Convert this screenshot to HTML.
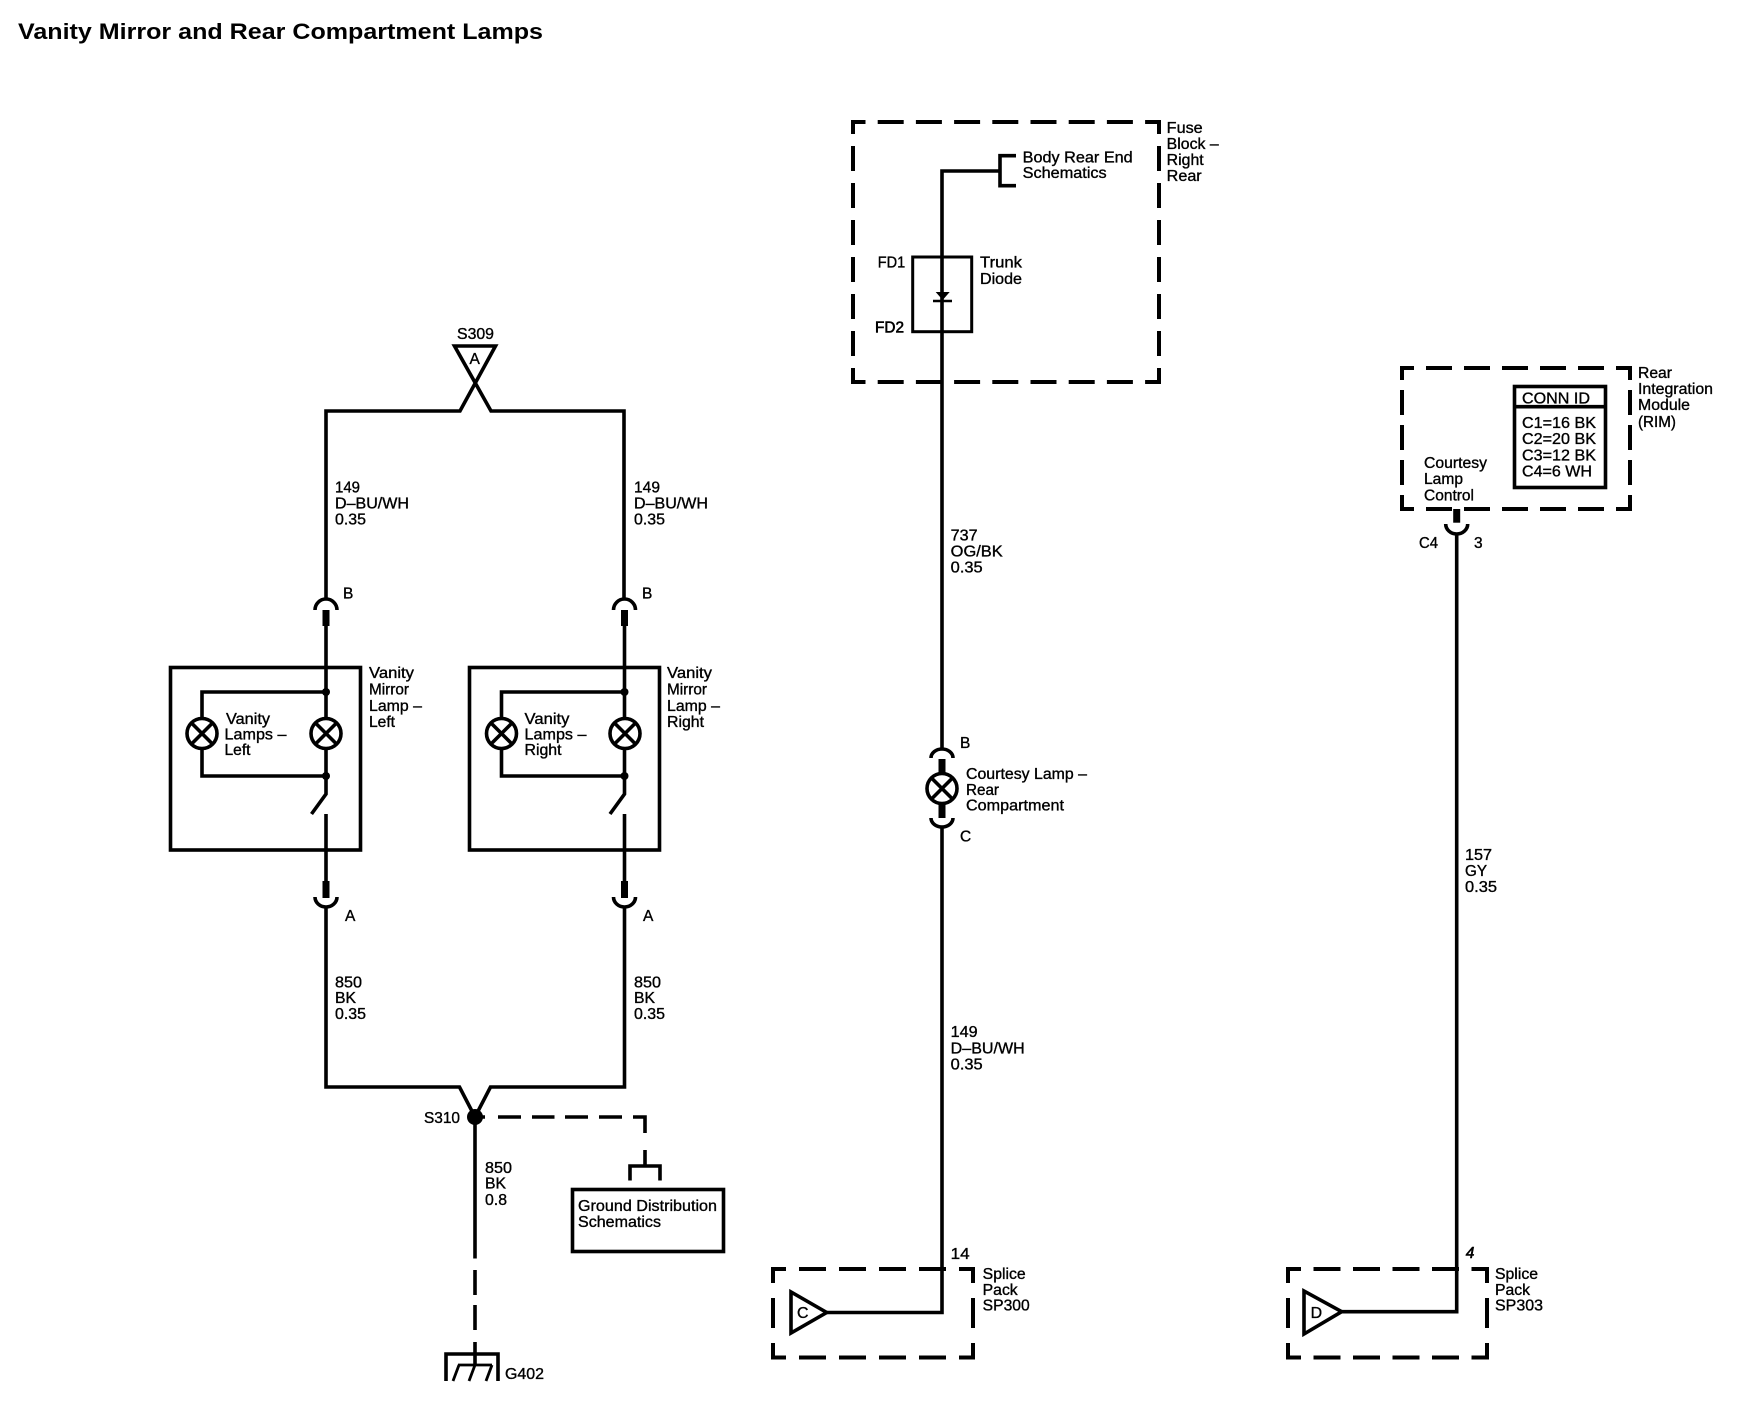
<!DOCTYPE html>
<html><head><meta charset="utf-8"><style>
html,body{margin:0;padding:0;background:#fff}
svg{display:block}
text{font-family:"Liberation Sans",Arial,sans-serif;font-size:15.5px;fill:#000;stroke:#000;stroke-width:.35}
.w{fill:none;stroke:#000;stroke-width:3.6}
.t{fill:none;stroke:#000;stroke-width:7}
.b{fill:none;stroke:#000;stroke-width:3.6}
</style></head><body>
<svg width="1740" height="1408" viewBox="0 0 1740 1408" xmlns="http://www.w3.org/2000/svg">
<rect width="1740" height="1408" fill="#fff"/>
<text x="18" y="39" textLength="525" lengthAdjust="spacingAndGlyphs" style="font-size:22px;font-weight:bold;stroke:none">Vanity Mirror and Rear Compartment Lamps</text>

<!-- S309 and top bus -->
<text x="457" y="339" textLength="37" lengthAdjust="spacingAndGlyphs">S309</text>
<path class="w" d="M326,598 V411 H460 L495.5,346 H454.5 L491,411 H624 V598" stroke-linejoin="miter"/>
<text x="469.5" y="364">A</text>

<!-- Left branch -->
<text x="335" y="492.5" textLength="25" lengthAdjust="spacingAndGlyphs">149</text>
<text x="335" y="508.5" textLength="74" lengthAdjust="spacingAndGlyphs">D–BU/WH</text>
<text x="335" y="524.5" textLength="31" lengthAdjust="spacingAndGlyphs">0.35</text>
<text x="343" y="598.5">B</text>
<path class="w" d="M315,610 A11,11 0 0 1 337,610"/>
<path class="t" d="M326,610 V626"/>
<path class="w" d="M326,626 V718 M326,749 V794 L311.5,814 M326,814 V881"/>
<rect class="b" x="170.5" y="667.5" width="190" height="182.5"/>
<path class="w" d="M326,692 H202 V718 M202,749 V776 H326"/>
<circle cx="326" cy="692" r="4"/><circle cx="326" cy="776" r="4"/>
<g class="w"><circle cx="326" cy="733.5" r="15"/><path d="M315.5,723 L336.5,744 M336.5,723 L315.5,744"/>
<circle cx="202" cy="733.5" r="15"/><path d="M191.5,723 L212.5,744 M212.5,723 L191.5,744"/></g>
<text x="226" y="724" textLength="44" lengthAdjust="spacingAndGlyphs">Vanity</text>
<text x="224.5" y="739.5" textLength="62" lengthAdjust="spacingAndGlyphs">Lamps –</text>
<text x="224.5" y="755" textLength="26" lengthAdjust="spacingAndGlyphs">Left</text>
<text x="369" y="678" textLength="45" lengthAdjust="spacingAndGlyphs">Vanity</text>
<text x="369" y="694.5" textLength="40" lengthAdjust="spacingAndGlyphs">Mirror</text>
<text x="369" y="711" textLength="53" lengthAdjust="spacingAndGlyphs">Lamp –</text>
<text x="369" y="727" textLength="26" lengthAdjust="spacingAndGlyphs">Left</text>
<path class="t" d="M326,881 V898"/>
<path class="w" d="M315,897 A11,10 0 0 0 337,897"/>
<text x="345" y="921">A</text>
<text x="335" y="987.5" textLength="27" lengthAdjust="spacingAndGlyphs">850</text>
<text x="335" y="1003" textLength="21" lengthAdjust="spacingAndGlyphs">BK</text>
<text x="335" y="1019" textLength="31" lengthAdjust="spacingAndGlyphs">0.35</text>

<!-- Right branch -->
<text x="634" y="492.5" textLength="26" lengthAdjust="spacingAndGlyphs">149</text>
<text x="634" y="508.5" textLength="74" lengthAdjust="spacingAndGlyphs">D–BU/WH</text>
<text x="634" y="524.5" textLength="31" lengthAdjust="spacingAndGlyphs">0.35</text>
<text x="642" y="598.5">B</text>
<path class="w" d="M613.5,610 A11,11 0 0 1 635.5,610"/>
<path class="t" d="M624.5,610 V626"/>
<path class="w" d="M624.5,626 V718 M624.5,749 V794 L610,814 M624.5,814 V881"/>
<rect class="b" x="469.5" y="667.5" width="190" height="182.5"/>
<path class="w" d="M624.5,692 H501.5 V718 M501.5,749 V776 H624.5"/>
<circle cx="624.5" cy="692" r="4"/><circle cx="624.5" cy="776" r="4"/>
<g class="w"><circle cx="625" cy="733.5" r="15"/><path d="M614.5,723 L635.5,744 M635.5,723 L614.5,744"/>
<circle cx="501.5" cy="733.5" r="15"/><path d="M491,723 L512,744 M512,723 L491,744"/></g>
<text x="524.5" y="724" textLength="45" lengthAdjust="spacingAndGlyphs">Vanity</text>
<text x="524.5" y="739.5" textLength="62" lengthAdjust="spacingAndGlyphs">Lamps –</text>
<text x="524.5" y="755" textLength="37" lengthAdjust="spacingAndGlyphs">Right</text>
<text x="667" y="678" textLength="45" lengthAdjust="spacingAndGlyphs">Vanity</text>
<text x="667" y="694.5" textLength="40" lengthAdjust="spacingAndGlyphs">Mirror</text>
<text x="667" y="711" textLength="53" lengthAdjust="spacingAndGlyphs">Lamp –</text>
<text x="667" y="727" textLength="37" lengthAdjust="spacingAndGlyphs">Right</text>
<path class="t" d="M624.5,881 V898"/>
<path class="w" d="M613.5,897 A11,10 0 0 0 635.5,897"/>
<text x="643" y="921">A</text>
<text x="634" y="987.5" textLength="27" lengthAdjust="spacingAndGlyphs">850</text>
<text x="634" y="1003" textLength="21" lengthAdjust="spacingAndGlyphs">BK</text>
<text x="634" y="1019" textLength="31" lengthAdjust="spacingAndGlyphs">0.35</text>

<!-- S310 bus -->
<path class="w" d="M326,907 V1087 H459.5 L475,1117 L490.5,1087 H624.5 V907"/>
<circle cx="475" cy="1117" r="8"/>
<text x="424" y="1123" textLength="36" lengthAdjust="spacingAndGlyphs">S310</text>
<path class="w" d="M475,1117 V1258.5"/>
<path class="w" d="M475,1270 V1295 M475,1305 V1330 M475,1342 V1365"/>
<path class="w" d="M475,1117 H485 M498,1117 H521 M532,1117 H554.5 M565,1117 H588 M599,1117 H622 M633,1117 H645 V1133 M645,1150 V1166"/>
<path class="w" d="M630,1180.5 V1166 H660 V1180.5"/>
<rect class="b" x="572.5" y="1189.5" width="151" height="62"/>
<text x="578" y="1211" textLength="139" lengthAdjust="spacingAndGlyphs">Ground Distribution</text>
<text x="578" y="1227" textLength="83" lengthAdjust="spacingAndGlyphs">Schematics</text>
<text x="485" y="1173" textLength="27" lengthAdjust="spacingAndGlyphs">850</text>
<text x="485" y="1188.5" textLength="21" lengthAdjust="spacingAndGlyphs">BK</text>
<text x="485" y="1205" textLength="22" lengthAdjust="spacingAndGlyphs">0.8</text>
<path class="w" d="M446,1381 V1354 H498 V1381"/>
<path class="w" d="M458,1365 H492 M459,1365 L453,1381 M475,1365 L469,1381 M492,1365 L486,1381" style="stroke-width:2.8"/>
<text x="505" y="1379" textLength="39" lengthAdjust="spacingAndGlyphs">G402</text>

<!-- Fuse block -->
<g class="w" style="stroke-width:4">
<line x1="851" y1="122" x2="1161" y2="122" stroke-dasharray="26 12.2" stroke-dashoffset="11.5"/>
<line x1="851" y1="382" x2="1161" y2="382" stroke-dasharray="26 12.2" stroke-dashoffset="11.5"/>
<line x1="853" y1="120" x2="853" y2="384" stroke-dasharray="25 12" stroke-dashoffset="11"/>
<line x1="1159" y1="120" x2="1159" y2="384" stroke-dasharray="25 12" stroke-dashoffset="11"/>
</g>
<path class="w" d="M942,749 V171 H1000 M1016,155.7 H1000 V185.7 H1016"/>
<rect class="b" x="912.7" y="257" width="59" height="74.7" style="stroke-width:3"/>
<path d="M935.7,292 H949.7 L942.7,300 Z"/>
<path class="w" d="M933,301 H952" style="stroke-width:2.5"/>
<text x="877.7" y="267.7" textLength="27.5" lengthAdjust="spacingAndGlyphs">FD1</text>
<text x="875" y="332.7" textLength="29" lengthAdjust="spacingAndGlyphs" style="stroke-width:.6">FD2</text>
<text x="980" y="267.7" textLength="42" lengthAdjust="spacingAndGlyphs">Trunk</text>
<text x="980" y="284" textLength="42" lengthAdjust="spacingAndGlyphs">Diode</text>
<text x="1022.7" y="162.7" textLength="110" lengthAdjust="spacingAndGlyphs">Body Rear End</text>
<text x="1022.7" y="178" textLength="84" lengthAdjust="spacingAndGlyphs">Schematics</text>
<text x="1166.7" y="133" textLength="36" lengthAdjust="spacingAndGlyphs">Fuse</text>
<text x="1166.7" y="149" textLength="52" lengthAdjust="spacingAndGlyphs">Block –</text>
<text x="1166.7" y="165" textLength="37" lengthAdjust="spacingAndGlyphs">Right</text>
<text x="1166.7" y="181" textLength="35" lengthAdjust="spacingAndGlyphs">Rear</text>
<text x="950.7" y="540.7" textLength="27" lengthAdjust="spacingAndGlyphs">737</text>
<text x="950.7" y="556.7" textLength="52" lengthAdjust="spacingAndGlyphs">OG/BK</text>
<text x="950.7" y="572.5" textLength="32" lengthAdjust="spacingAndGlyphs">0.35</text>

<!-- Courtesy lamp -->
<path class="w" d="M931,758 A11,9 0 0 1 953,758"/>
<path class="t" d="M942,759 V774 M942,803 V818"/>
<circle class="w" cx="942" cy="788.5" r="15"/>
<path class="w" d="M931.5,778 L952.5,799 M952.5,778 L931.5,799"/>
<path class="w" d="M931,818 A11,9 0 0 0 953,818"/>
<text x="960" y="747.8">B</text>
<text x="960" y="841.5">C</text>
<text x="966" y="779" textLength="121" lengthAdjust="spacingAndGlyphs">Courtesy Lamp –</text>
<text x="966" y="795" textLength="33" lengthAdjust="spacingAndGlyphs">Rear</text>
<text x="966" y="810.7" textLength="98" lengthAdjust="spacingAndGlyphs">Compartment</text>
<path class="w" d="M942,827 V1312.5 H826.7"/>
<text x="950.7" y="1037" textLength="27" lengthAdjust="spacingAndGlyphs">149</text>
<text x="950.7" y="1053.6" textLength="74" lengthAdjust="spacingAndGlyphs">D–BU/WH</text>
<text x="950.7" y="1069.6" textLength="32" lengthAdjust="spacingAndGlyphs">0.35</text>
<text x="950.7" y="1259" textLength="19" lengthAdjust="spacingAndGlyphs">14</text>

<!-- Splice SP300 -->
<g class="w" style="stroke-width:4">
<line x1="771" y1="1269" x2="975" y2="1269" stroke-dasharray="27 13" stroke-dashoffset="12"/>
<line x1="771" y1="1357.5" x2="975" y2="1357.5" stroke-dasharray="27 13" stroke-dashoffset="12"/>
<line x1="773" y1="1267" x2="773" y2="1359.5" stroke-dasharray="30 15" stroke-dashoffset="14"/>
<line x1="973" y1="1267" x2="973" y2="1359.5" stroke-dasharray="30 15" stroke-dashoffset="14"/>
</g>
<path class="w" d="M791,1292 V1333 L826.7,1312.5 Z"/>
<text x="797" y="1318" textLength="11.5" lengthAdjust="spacingAndGlyphs">C</text>
<text x="982.7" y="1279" textLength="43" lengthAdjust="spacingAndGlyphs">Splice</text>
<text x="982.7" y="1295" textLength="35" lengthAdjust="spacingAndGlyphs">Pack</text>
<text x="982.7" y="1310.7" textLength="47" lengthAdjust="spacingAndGlyphs">SP300</text>

<!-- RIM -->
<g class="w" style="stroke-width:4">
<line x1="1400" y1="368" x2="1632" y2="368" stroke-dasharray="26 12" stroke-dashoffset="12"/>
<line x1="1400" y1="509" x2="1632" y2="509" stroke-dasharray="26 12" stroke-dashoffset="12"/>
<line x1="1402" y1="366" x2="1402" y2="511" stroke-dasharray="25 10" stroke-dashoffset="11"/>
<line x1="1630" y1="366" x2="1630" y2="511" stroke-dasharray="25 10" stroke-dashoffset="11"/>
</g>
<rect class="b" x="1514.5" y="386.5" width="91" height="101"/>
<path class="w" d="M1514,406.7 H1606"/>
<text x="1522" y="403.3" textLength="68" lengthAdjust="spacingAndGlyphs">CONN ID</text>
<text x="1522" y="428" textLength="74" lengthAdjust="spacingAndGlyphs">C1=16 BK</text>
<text x="1522" y="444" textLength="74" lengthAdjust="spacingAndGlyphs">C2=20 BK</text>
<text x="1522" y="460.7" textLength="74" lengthAdjust="spacingAndGlyphs">C3=12 BK</text>
<text x="1522" y="476.7" textLength="70" lengthAdjust="spacingAndGlyphs">C4=6 WH</text>
<text x="1424" y="468" textLength="63" lengthAdjust="spacingAndGlyphs">Courtesy</text>
<text x="1424" y="484" textLength="39" lengthAdjust="spacingAndGlyphs">Lamp</text>
<text x="1424" y="500.7" textLength="50" lengthAdjust="spacingAndGlyphs">Control</text>
<text x="1638" y="378" textLength="34" lengthAdjust="spacingAndGlyphs">Rear</text>
<text x="1638" y="394" textLength="75" lengthAdjust="spacingAndGlyphs">Integration</text>
<text x="1638" y="410" textLength="52" lengthAdjust="spacingAndGlyphs">Module</text>
<text x="1638" y="427" textLength="38" lengthAdjust="spacingAndGlyphs">(RIM)</text>
<path class="t" d="M1456.7,509 V522.7"/>
<path class="w" d="M1445.7,524 A11,10 0 0 0 1467.7,524"/>
<path class="w" d="M1456.7,534 V1311.7 H1341.7"/>
<text x="1419" y="548" textLength="19" lengthAdjust="spacingAndGlyphs">C4</text>
<text x="1474" y="548">3</text>
<text x="1465" y="860" textLength="27" lengthAdjust="spacingAndGlyphs">157</text>
<text x="1465" y="876" textLength="22" lengthAdjust="spacingAndGlyphs">GY</text>
<text x="1465" y="892" textLength="32" lengthAdjust="spacingAndGlyphs">0.35</text>
<text x="1465.7" y="1258" style="font-style:italic;stroke-width:.6">4</text>

<!-- Splice SP303 -->
<g class="w" style="stroke-width:4">
<line x1="1286" y1="1269" x2="1489" y2="1269" stroke-dasharray="27 12.5" stroke-dashoffset="12"/>
<line x1="1286" y1="1357.5" x2="1489" y2="1357.5" stroke-dasharray="27 12.5" stroke-dashoffset="12"/>
<line x1="1288" y1="1267" x2="1288" y2="1359.5" stroke-dasharray="30 15" stroke-dashoffset="14"/>
<line x1="1487" y1="1267" x2="1487" y2="1359.5" stroke-dasharray="30 15" stroke-dashoffset="14"/>
</g>
<path class="w" d="M1304,1291 V1334 L1341.7,1311.7 Z"/>
<text x="1310.7" y="1318" textLength="11.5" lengthAdjust="spacingAndGlyphs">D</text>
<text x="1495" y="1279" textLength="43" lengthAdjust="spacingAndGlyphs">Splice</text>
<text x="1495" y="1295" textLength="35" lengthAdjust="spacingAndGlyphs">Pack</text>
<text x="1495" y="1310.7" textLength="48" lengthAdjust="spacingAndGlyphs">SP303</text>
</svg>
</body></html>
